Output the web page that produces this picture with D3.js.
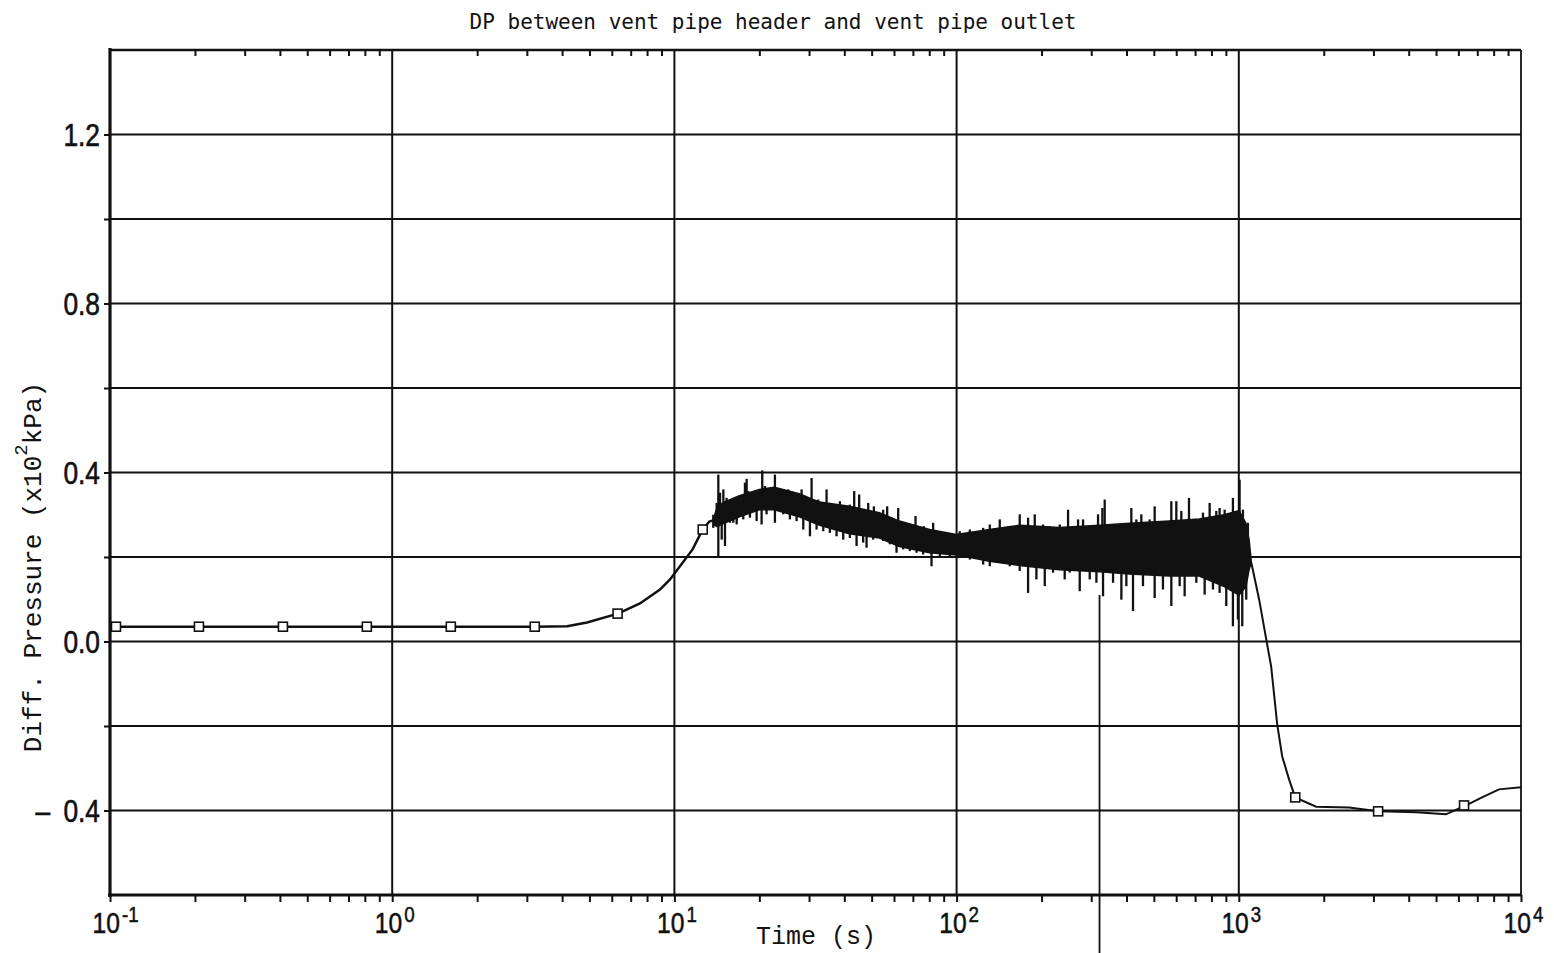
<!DOCTYPE html>
<html>
<head>
<meta charset="utf-8">
<script src="https://cdn.jsdelivr.net/npm/d3@7"></script>
<style>
  body { margin: 0; background: #fff; }
  svg { display: block; }
</style>
</head>
<body>
<svg width="1554" height="953"></svg>
<script>
// ---- data ----
const titleText = 'DP between vent pipe header and vent pipe outlet'
const xLabel = 'Time (s)'
const decades = [0.1, 1, 10, 100, 1000, 10000]
const decadeExp = ['-1', '0', '1', '2', '3', '4']
const yGrid = [-0.4, -0.2, 0, 0.2, 0.4, 0.6, 0.8, 1.0, 1.2]
const yLabels = [-0.4, 0, 0.4, 0.8, 1.2]

// smooth part before the oscillations
const riseTime  = [0.1, 0.2, 0.5, 1, 2, 3.2, 4.17, 4.9, 6.31, 7.55, 8.89, 9.65, 11.6, 12.6, 13.3, 13.9]
const riseValue = [0.035, 0.035, 0.035, 0.035, 0.035, 0.035, 0.036, 0.045, 0.066, 0.09, 0.123, 0.147, 0.218, 0.265, 0.284, 0.288]

// dense core of the oscillating part
const coreTime = [13.9, 14.2, 15, 17, 20, 22.6, 27.7, 32.7, 41.7, 53.3, 62.7, 80.2, 99.8, 130.6, 166.8, 231, 321, 409, 567, 724, 887, 1002, 1060, 1088, 1107]
const coreLow  = [0.275, 0.272, 0.28, 0.295, 0.312, 0.312, 0.295, 0.275, 0.255, 0.245, 0.225, 0.21, 0.205, 0.19, 0.18, 0.17, 0.165, 0.16, 0.155, 0.155, 0.13, 0.11, 0.13, 0.17, 0.187]
const coreHigh = [0.30, 0.32, 0.33, 0.345, 0.36, 0.365, 0.35, 0.33, 0.32, 0.305, 0.285, 0.265, 0.253, 0.265, 0.275, 0.27, 0.275, 0.28, 0.285, 0.29, 0.30, 0.31, 0.28, 0.24, 0.19]

// peaks along the upper edge
const upperTime  = [13.73, 14.12, 14.31, 14.51, 14.91, 15.31, 15.74, 16.17, 16.62, 17.07, 17.54, 17.78, 18.03, 18.27, 18.52, 19.03, 19.56, 20.10, 20.48, 20.93,
  21.51, 22.10, 22.71, 23.33, 23.98, 24.64, 25.32, 26.02, 26.73, 27.47, 28.23, 29.01, 29.81, 30.63, 31.47, 32.34, 33.23, 34.61, 36.05, 37.04,
  38.59, 40.19, 41.86, 43.36, 45.16, 46.66, 48.62, 50.92, 52.74, 54.94, 56.75, 58.80, 62.09, 64.67, 67.36, 71.52, 74.09, 76.54, 79.29, 82.58,
  87.19, 92.07, 95.90, 102.6, 111.4, 124.2, 131.1, 142.2, 154.3, 167.4, 179.2, 189.2, 202.5, 213.8, 232.0, 248.3, 258.6, 269.4, 280.6, 296.3,
  317.1, 328.5, 334.8, 358.4, 378.4, 416.1, 433.4, 451.4, 483.2, 503.3, 538.6, 576.6, 600.6, 625.6, 666.0, 707.2, 746.6, 788.3, 832.3, 855.1,
  890.7, 953.2, 1006.5, 1034.2, 1077.2]
const upperValue = [0.300, 0.328, 0.395, 0.352, 0.360, 0.340, 0.297, 0.281, 0.289, 0.320, 0.344, 0.376, 0.385, 0.356, 0.336, 0.320, 0.344, 0.360, 0.405, 0.368,
  0.336, 0.352, 0.395, 0.360, 0.328, 0.352, 0.360, 0.356, 0.340, 0.348, 0.360, 0.332, 0.320, 0.387, 0.328, 0.336, 0.320, 0.360, 0.324, 0.320,
  0.332, 0.308, 0.324, 0.356, 0.348, 0.312, 0.328, 0.320, 0.301, 0.312, 0.320, 0.293, 0.316, 0.281, 0.269, 0.297, 0.265, 0.273, 0.261, 0.281,
  0.253, 0.257, 0.249, 0.261, 0.265, 0.269, 0.277, 0.289, 0.273, 0.301, 0.293, 0.301, 0.277, 0.273, 0.277, 0.312, 0.265, 0.289, 0.289, 0.269,
  0.301, 0.316, 0.336, 0.277, 0.269, 0.316, 0.289, 0.301, 0.289, 0.320, 0.281, 0.332, 0.332, 0.309, 0.340, 0.289, 0.305, 0.328, 0.309, 0.316,
  0.312, 0.340, 0.383, 0.312, 0.281]

// dips along the lower edge
const lowerTime  = [13.73, 14.31, 14.71, 15.11, 15.74, 16.62, 17.54, 18.52, 19.56, 20.37, 21.21, 22.71, 24.31, 25.66, 27.10, 28.62, 30.22, 31.90, 33.69, 35.56,
  37.55, 39.65, 41.86, 44.21, 46.66, 47.96, 50.64, 54.94, 58.00, 61.25, 64.67, 68.30, 72.11, 76.12, 81.49, 87.19, 94.6, 102.6, 111.4, 124.2,
  131.1, 142.2, 154.3, 167.4, 179.2, 191.8, 205.3, 219.7, 241.6, 251.7, 273.1, 296.3, 312.9, 330.3, 358.4, 383.6, 399.5, 421.8, 457.6, 503.3,
  538.6, 576.6, 617.2, 642.8, 707.2, 756.8, 809.9, 855.1, 902.8, 953.2, 992.9, 1028.6, 1062.6]
const lowerValue = [0.269, 0.199, 0.241, 0.226, 0.281, 0.277, 0.289, 0.293, 0.285, 0.277, 0.301, 0.281, 0.301, 0.289, 0.285, 0.265, 0.249, 0.265, 0.261, 0.257,
  0.249, 0.241, 0.245, 0.226, 0.234, 0.222, 0.241, 0.238, 0.230, 0.210, 0.218, 0.214, 0.210, 0.206, 0.178, 0.198, 0.202, 0.198, 0.194, 0.182,
  0.178, 0.186, 0.178, 0.167, 0.115, 0.147, 0.131, 0.163, 0.147, 0.163, 0.119, 0.147, 0.139, 0.107, 0.139, 0.099, 0.131, 0.072, 0.131, 0.103,
  0.123, 0.084, 0.131, 0.107, 0.139, 0.111, 0.123, 0.115, 0.084, 0.036, 0.052, 0.036, 0.099]

// drop and tail after the oscillations
const tailTime  = [1107, 1181, 1251, 1302, 1368, 1425, 1508, 1585, 1880, 2460, 3117, 4246, 5420, 6283, 7278, 8356, 10000]
const tailValue = [0.187, 0.099, 0.005, -0.059, -0.196, -0.272, -0.327, -0.369, -0.391, -0.393, -0.402, -0.404, -0.409, -0.390, -0.369, -0.350, -0.345]

// symbol positions
const markTime  = [0.105, 0.2066, 0.41, 0.813, 1.613, 3.2, 6.29, 12.6, 1585, 3117, 6283]
const markValue = [0.035, 0.035, 0.035, 0.035, 0.035, 0.035, 0.066, 0.265, -0.369, -0.402, -0.388]

// stray vertical stroke on the sheet
const strayTime = 321
const strayTop = 0.11

// ---- layout ----
const svg = d3.select('svg')
const width = +svg.attr('width')
const height = +svg.attr('height')
const pL = 110, pR = 1521, pT = 50, pB = 895
const ink = '#111'

const x = d3.scaleLog().domain([0.1, 10000]).range([pL, pR])
const y = d3.scaleLinear().domain([-0.6, 1.4]).range([pB, pT])

const labelFont = '"Liberation Sans", Arial, sans-serif'
const monoFont = '"Liberation Mono", "DejaVu Sans Mono", monospace'
const squeeze = 0.85

// grid
svg.append('g')
  .selectAll('line')
  .data(yGrid)
  .join('line')
    .attr('x1', pL).attr('x2', pR)
    .attr('y1', d => y(d)).attr('y2', d => y(d))
    .attr('stroke', ink).attr('stroke-width', 2)

svg.append('g')
  .selectAll('line')
  .data(decades.slice(1, -1))
  .join('line')
    .attr('x1', d => x(d)).attr('x2', d => x(d))
    .attr('y1', pT).attr('y2', pB)
    .attr('stroke', ink).attr('stroke-width', 2)

// minor ticks per decade
const minor = []
decades.slice(0, -1).forEach(d => { for (let k = 2; k <= 9; k++) minor.push(d * k) })

const gTop = svg.append('g')
  .attr('transform', `translate(0, ${pT})`)
  .call(d3.axisTop(x).tickValues(minor).tickSize(-6).tickFormat(''))
gTop.select('.domain').remove()
gTop.selectAll('line').attr('stroke', ink).attr('stroke-width', 2)

const gBottom = svg.append('g')
  .attr('transform', `translate(0, ${pB})`)
  .call(d3.axisBottom(x).tickValues(minor.concat(decades)).tickSize(7).tickFormat(''))
gBottom.select('.domain').remove()
gBottom.selectAll('line').attr('stroke', ink).attr('stroke-width', 2)

// frame
svg.append('line').attr('x1', pL).attr('x2', pR).attr('y1', pT).attr('y2', pT)
  .attr('stroke', ink).attr('stroke-width', 2.4)
svg.append('line').attr('x1', pR).attr('x2', pR).attr('y1', pT).attr('y2', pB)
  .attr('stroke', ink).attr('stroke-width', 1.8)
svg.append('line').attr('x1', pL - 2).attr('x2', pR + 1).attr('y1', pB).attr('y2', pB)
  .attr('stroke', ink).attr('stroke-width', 3)

// left axis
const gLeft = svg.append('g')
  .attr('transform', `translate(${pL}, 0)`)
  .call(d3.axisLeft(y).tickValues(yGrid).tickSize(6)
    .tickFormat(d => yLabels.some(v => Math.abs(v - d) < 1e-9)
      ? (d < 0 ? '\u2013\u2002' + d3.format('.1f')(-d) : d3.format('.1f')(d)) : ''))
gLeft.select('.domain').remove()
gLeft.selectAll('line').attr('stroke', ink).attr('stroke-width', 2)
gLeft.selectAll('text')
  .attr('font-family', labelFont).attr('font-size', 31).attr('fill', ink)
  .attr('stroke', ink).attr('stroke-width', 0.6)
  .attr('x', -10 / squeeze).attr('dy', '0.36em')
  .attr('transform', `scale(${squeeze}, 1)`)
svg.append('line').attr('x1', pL).attr('x2', pL).attr('y1', pT - 2).attr('y2', pB + 2)
  .attr('stroke', ink).attr('stroke-width', 3.2)

// x decade labels
const xl = svg.append('g')
  .selectAll('g')
  .data(decades)
  .join('g')
    .attr('transform', d => `translate(${x(d)}, 933)`)
xl.append('text')
  .attr('transform', `scale(${squeeze}, 1)`)
  .attr('x', 10 / squeeze).attr('text-anchor', 'end')
  .attr('font-family', labelFont).attr('font-size', 29).attr('fill', ink)
  .attr('stroke', ink).attr('stroke-width', 0.5)
  .text('10')
xl.append('text')
  .attr('transform', `scale(${squeeze}, 1)`)
  .attr('x', 12 / squeeze).attr('y', -11)
  .attr('font-family', labelFont).attr('font-size', 22).attr('fill', ink)
  .attr('stroke', ink).attr('stroke-width', 0.5)
  .text((d, i) => decadeExp[i])

// titles
svg.append('text')
  .attr('x', 773).attr('y', 29).attr('text-anchor', 'middle')
  .attr('font-family', '"DejaVu Sans Mono", monospace').attr('font-size', 21).attr('fill', ink)
  .text(titleText)

svg.append('text')
  .attr('x', 816).attr('y', 944).attr('text-anchor', 'middle')
  .attr('font-family', monoFont).attr('font-size', 25).attr('fill', ink)
  .text(xLabel)

const yl = svg.append('text')
  .attr('transform', 'translate(41, 567) rotate(-90)')
  .attr('text-anchor', 'middle')
  .attr('font-family', monoFont).attr('font-size', 26).attr('fill', ink)
yl.append('tspan').text('Diff. Pressure (x10')
yl.append('tspan').attr('dy', -14).attr('font-size', 19).text('2')
yl.append('tspan').attr('dy', 14).text('kPa)')

// stray stroke
svg.append('line')
  .attr('x1', x(strayTime)).attr('x2', x(strayTime))
  .attr('y1', y(strayTop)).attr('y2', height)
  .attr('stroke', ink).attr('stroke-width', 1.8)

// ---- data ----
const line = d3.line().x(d => x(d[0])).y(d => y(d[1]))
const plot = svg.append('g')

plot.append('path')
  .attr('d', line(riseTime.map((t, i) => [t, riseValue[i]])))
  .attr('fill', 'none').attr('stroke', ink).attr('stroke-width', 2.5)

// solid core band
const band = d3.area().x(d => x(d[0])).y0(d => y(d[1])).y1(d => y(d[2]))
plot.append('path')
  .attr('d', band(coreTime.map((t, i) => [t, coreLow[i], coreHigh[i]])))
  .attr('fill', ink).attr('stroke', ink).attr('stroke-width', 1.5)

// middle of the core, used as the foot of every spike
const coreMid = d3.scaleLog()
  .domain(coreTime)
  .range(coreTime.map((t, i) => (coreLow[i] + coreHigh[i]) / 2))
  .clamp(true)

const spikes = upperTime.map((t, i) => [t, upperValue[i]])
  .concat(lowerTime.map((t, i) => [t, lowerValue[i]]))
plot.append('g')
  .selectAll('line')
  .data(spikes)
  .join('line')
    .attr('x1', d => x(d[0])).attr('x2', d => x(d[0]))
    .attr('y1', d => y(coreMid(d[0]))).attr('y2', d => y(d[1]))
    .attr('stroke', ink).attr('stroke-width', 2.3)

plot.append('path')
  .attr('d', line(tailTime.map((t, i) => [t, tailValue[i]])))
  .attr('fill', 'none').attr('stroke', ink).attr('stroke-width', 2)

plot.append('g')
  .selectAll('rect')
  .data(markTime.map((t, i) => [t, markValue[i]]))
  .join('rect')
    .attr('x', d => x(d[0]) - 4.5).attr('y', d => y(d[1]) - 4.5)
    .attr('width', 9).attr('height', 9)
    .attr('fill', '#fff').attr('stroke', ink).attr('stroke-width', 1.6)
</script>
</body>
</html>
